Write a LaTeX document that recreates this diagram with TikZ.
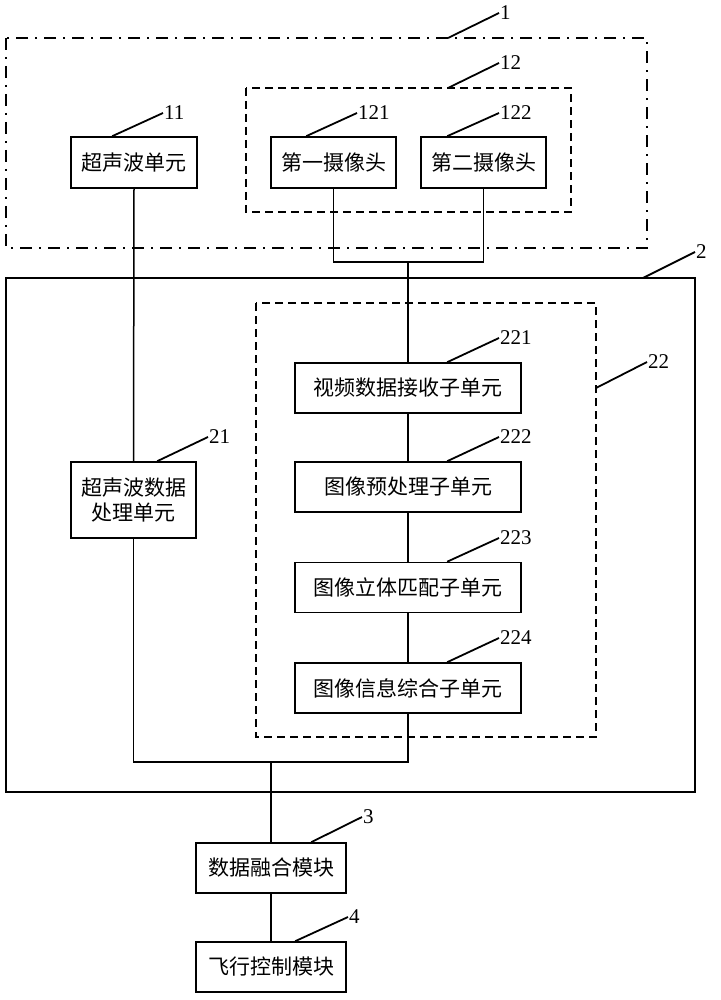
\documentclass[tikz,border=0pt]{standalone}
\usepackage{fontspec}
\setmainfont{Liberation Serif}
\newfontfamily\cjk{Noto Sans CJK SC}
\usetikzlibrary{calc,positioning}
\tikzstyle{unit}=[rectangle,draw=black,line width=1.6pt,inner sep=2pt,align=center,
  font=\cjk\fontsize{21}{25}\selectfont]
\tikzstyle{num}=[inner sep=1pt,anchor=west,font=\fontsize{21}{22}\selectfont]
\tikzstyle{leader}=[line width=1.8pt]
\tikzstyle{link}=[line width=1.5pt]
\tikzstyle{group}=[line width=1.6pt,dash pattern=on 8pt off 5pt]
\tikzstyle{block}=[line width=1.6pt,dash pattern=on 12pt off 7pt on 2pt off 7pt]

\begin{document}
\begin{tikzpicture}[x=1pt,y=-1pt]
    \useasboundingbox (0,0) rectangle (720,1000);

    % enclosures
    \draw[block] (6,38) rectangle (647,248);
    \draw[group] (246,88) rectangle (571,212);
    \draw[line width=2pt] (6,278) rectangle (695,792);
    \draw[group] (256,303) rectangle (596,737);
    \coordinate (c1) at (448,38);
    \coordinate (c12) at (448,88);
    \coordinate (c2) at (643,278);
    \coordinate (c22) at (596,388);

    % units
    \node[unit,minimum width=126pt,minimum height=51pt] (ultra) at (134,162.5) {超声波单元};
    \node[unit,minimum width=125pt,minimum height=51pt] (cam1) at (333.5,162.5) {第一摄像头};
    \node[unit,minimum width=125pt,minimum height=51pt] (cam2) at (483.5,162.5) {第二摄像头};
    \node[unit,minimum width=125pt,minimum height=76pt] (ultraproc) at (133.5,500) {超声波数据\\处理单元};
    \node[unit,minimum width=226pt,minimum height=50pt] (recv) at (408,388) {视频数据接收子单元};
    \node[unit,minimum width=226pt,minimum height=50pt] (pre) at (408,487) {图像预处理子单元};
    \node[unit,minimum width=226pt,minimum height=50pt] (match) at (408,587.5) {图像立体匹配子单元};
    \node[unit,minimum width=226pt,minimum height=50pt] (info) at (408,688) {图像信息综合子单元};
    \node[unit,minimum width=150pt,minimum height=50pt] (fusion) at (271,868) {数据融合模块};
    \node[unit,minimum width=150pt,minimum height=50pt] (flight) at (271,967) {飞行控制模块};

    % connectors
    \coordinate (jcam) at (recv.north |- 0,262);
    \coordinate (jout) at (fusion.north |- 0,762);
    \draw[link] (cam1.south) |- (jcam) -| (cam2.south);
    \draw[link] (jcam) -- (recv.north);
    \draw[link] (ultra.south) -- (ultraproc.north);
    \draw[link] (recv) -- (pre);
    \draw[link] (pre) -- (match);
    \draw[link] (match) -- (info);
    \draw[link] (ultraproc.south) |- (jout) -| (info.south);
    \draw[link] (jout) -- (fusion.north);
    \draw[link] (fusion) -- (flight);

    % reference numerals
    \node[num] (n1) at (499,13) {1};
    \node[num] (n12) at (499,63) {12};
    \node[num] (n11) at (163,113) {11};
    \node[num] (n121) at (357,113) {121};
    \node[num] (n122) at (499,113) {122};
    \node[num] (n2) at (695,252) {2};
    \node[num] (n22) at (647,362) {22};
    \node[num] (n221) at (499,338) {221};
    \node[num] (n222) at (499,437) {222};
    \node[num] (n223) at (499,538) {223};
    \node[num] (n224) at (499,638) {224};
    \node[num] (n21) at (208,437) {21};
    \node[num] (n3) at (362,817) {3};
    \node[num] (n4) at (348,917) {4};

    \draw[leader] (c1) -- (n1.west);
    \draw[leader] (c12) -- (n12.west);
    \draw[leader] ($(ultra.north west)+(42,0)$) -- (n11.west);
    \draw[leader] ($(cam1.north west)+(36,0)$) -- (n121.west);
    \draw[leader] ($(cam2.north west)+(27,0)$) -- (n122.west);
    \draw[leader] (c2) -- (n2.west);
    \draw[leader] (c22) -- (n22.west);
    \draw[leader] ($(recv.north west)+(153,0)$) -- (n221.west);
    \draw[leader] ($(pre.north west)+(153,0)$) -- (n222.west);
    \draw[leader] ($(match.north west)+(153,0)$) -- (n223.west);
    \draw[leader] ($(info.north west)+(153,0)$) -- (n224.west);
    \draw[leader] ($(ultraproc.north west)+(87,0)$) -- (n21.west);
    \draw[leader] ($(fusion.north west)+(116,0)$) -- (n3.west);
    \draw[leader] ($(flight.north west)+(100,0)$) -- (n4.west);
\end{tikzpicture}
\end{document}
